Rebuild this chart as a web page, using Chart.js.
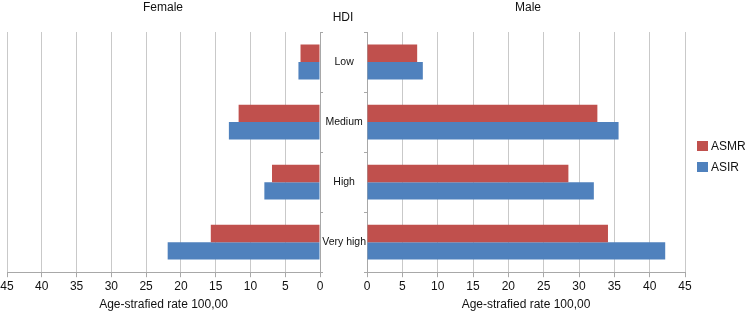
<!DOCTYPE html>
<html>
<head>
<meta charset="utf-8">
<script src="https://cdn.jsdelivr.net/npm/chart.js@4"></script>
<style>
  body { margin: 0; background: #fff; font-family: 'Liberation Sans', Arial, sans-serif; }
  #wrap { position: relative; width: 745px; height: 313px; overflow: hidden; }
  canvas { position: absolute; top: 0; }
  .lbl { position: absolute; font-size: 12px; line-height: 14px; color: #111; transform: translateX(-50%); white-space: nowrap; }
  #legend { position: absolute; left: 697px; top: 135px; font-size: 12px; color: #111; }
  #legend div { height: 21px; line-height: 12px; display: flex; align-items: center; }
  #legend span.box { display: inline-block; width: 11px; height: 10px; margin-right: 3px; }
</style>
</head>
<body>
<div id="wrap">
  <canvas id="female" width="323" height="313" style="left:0;width:323px;height:313px"></canvas>
  <canvas id="male" width="426" height="313" style="left:319px;width:426px;height:313px"></canvas>
  <div class="lbl" style="left:163px;top:0px">Female</div>
  <div class="lbl" style="left:528px;top:0px">Male</div>
  <div class="lbl" style="left:343px;top:10px">HDI</div>
  <div id="legend"></div>
</div>
<script>
const labels = ['Low', 'Medium', 'High', 'Very high'];
const seriesNames = ['ASMR', 'ASIR'];
const seriesColors = ['#C0504D', '#4F81BD'];

// female rates
const femaleASMR = [2.8, 11.7, 6.9, 15.7];
const femaleASIR = [3.1, 13.1, 8.0, 21.9];
// male rates
const maleASMR = [7.1, 32.6, 28.5, 34.1];
const maleASIR = [7.9, 35.6, 32.1, 42.2];

const xTicks = [0, 5, 10, 15, 20, 25, 30, 35, 40, 45];
const axisTitle = 'Age-strafied rate 100,00';

const fontFamily = "'Liberation Sans', Arial, sans-serif";
const gridColor = '#c9c9c9';
const axisColor = '#a8a8a8';

function makeData(a, b) {
	return {
		labels: labels,
		datasets: [a, b].map((d, i) => ({
			label: seriesNames[i],
			data: d,
			backgroundColor: seriesColors[i],
			borderWidth: 0,
			categoryPercentage: 0.58,
			barPercentage: 1
		}))
	};
}

function makeConfig(data, left) {
	return {
		type: 'bar',
		data: data,
		options: {
			indexAxis: 'y',
			responsive: false,
			animation: false,
			layout: {
				padding: left ? { top: 32, left: 7, right: 0, bottom: 0 } : { top: 32, left: 0, right: 60, bottom: 0 }
			},
			plugins: {
				legend: { display: false },
				tooltip: { enabled: false }
			},
			scales: {
				x: {
					reverse: left,
					min: 0,
					max: 45,
					afterBuildTicks: scale => { scale.ticks = xTicks.map(v => ({ value: v })); },
					grid: {
						color: gridColor,
						tickLength: 5,
						tickColor: axisColor
					},
					border: { color: axisColor },
					ticks: {
						padding: 2,
						color: '#111',
						font: { family: fontFamily, size: 12 }
					},
					title: {
						display: true,
						text: axisTitle,
						color: '#111',
						padding: { top: 2, bottom: 1 },
						font: { family: fontFamily, size: 12 }
					}
				},
				y: {
					position: left ? 'right' : 'left',
					afterFit: scale => { scale.width = left ? 3 : 48; },
					grid: {
						drawOnChartArea: false,
						tickLength: 3,
						color: axisColor
					},
					border: { color: axisColor },
					ticks: {
						display: !left,
						crossAlign: 'center',
						padding: -2,
						color: '#111',
						font: { family: fontFamily, size: 10.5 }
					}
				}
			}
		}
	};
}

const female = new Chart(document.getElementById('female'), makeConfig(makeData(femaleASMR, femaleASIR), true));
const male = new Chart(document.getElementById('male'), makeConfig(makeData(maleASMR, maleASIR), false));

// legend
const legend = document.getElementById('legend');
seriesNames.forEach((name, i) => {
	const row = document.createElement('div');
	row.innerHTML = '<span class="box" style="background:' + seriesColors[i] + '"></span>' + name;
	legend.appendChild(row);
});
</script>
</body>
</html>
